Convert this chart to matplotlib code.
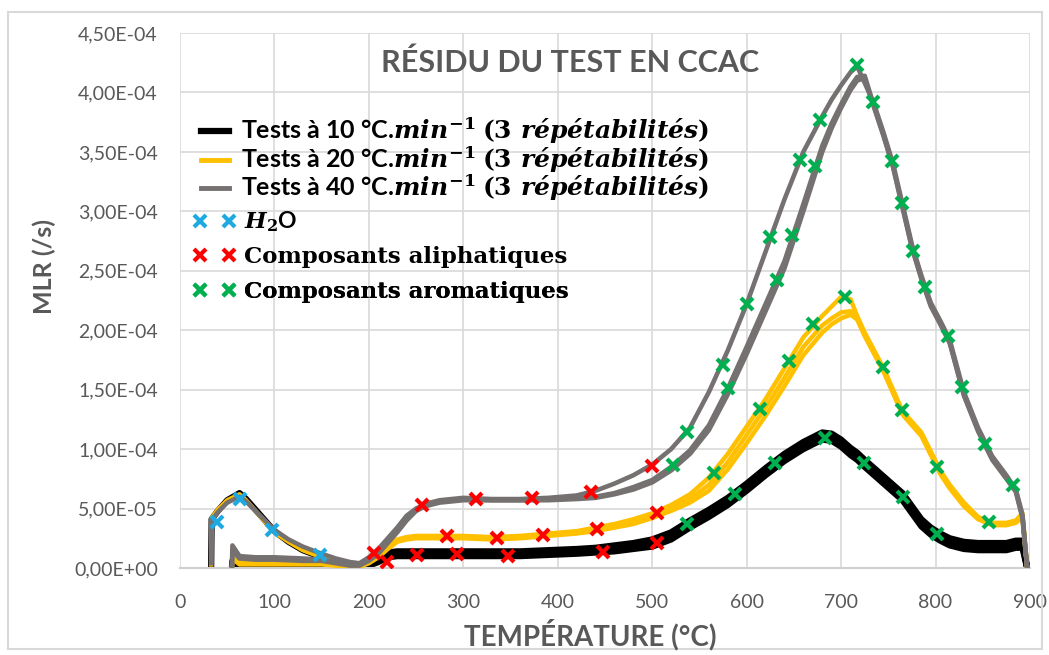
import matplotlib.pyplot as plt
from matplotlib.lines import Line2D
from matplotlib.patches import Rectangle
from matplotlib.ticker import FuncFormatter, MultipleLocator
import numpy as np

plt.rcParams['font.family'] = ['Lato', 'DejaVu Sans']
plt.rcParams['mathtext.fontset'] = 'custom'
plt.rcParams['mathtext.it'] = 'DejaVu Serif:italic:bold'
plt.rcParams['mathtext.rm'] = 'DejaVu Serif:bold'
plt.rcParams['mathtext.bf'] = 'DejaVu Serif:bold'

# Temperature grids (°C): first run with the water peak, the two other runs start later
temp_bump = [33, 33.5, 40, 50, 63, 70, 80, 90, 100, 115, 130, 150, 165, 180, 190]
temp_flat = [55, 55.5, 63, 80, 100, 130, 150, 165, 180, 190]
temp_main = [200, 210, 220, 230, 240, 250, 260, 275, 300, 330, 360, 390, 420, 440, 460,
             480, 500, 520, 540, 560, 580, 600, 620, 640, 660, 680, 690, 700, 710, 717,
             725, 735, 745, 755, 765, 775, 785, 795, 805, 815, 830, 845, 860, 875, 885,
             892, 897]

# MLR in 1e-5 /s
gray_bump = [0.4, 4.0, 4.7, 5.5, 6.0, 5.6, 4.8, 4.0, 3.2, 2.4, 1.8, 1.2, 0.8, 0.5, 0.4]
gray_flat2 = [0.0, 1.9, 1.0, 0.9, 0.9, 0.8, 0.7, 0.5, 0.3, 0.3]
gray_flat3 = [0.0, 1.5, 0.8, 0.7, 0.7, 0.6, 0.6, 0.4, 0.2, 0.2]
gray_main1 = [0.9, 1.6, 2.5, 3.4, 4.4, 5.0, 5.4, 5.7, 5.9, 5.8, 5.8, 5.9, 6.1, 6.5, 7.1,
              7.8, 8.7, 10.0, 11.8, 14.8, 18.3, 22.2, 26.6, 31.0, 35.0, 38.0, 39.4, 40.6, 41.7, 42.2,
              40.8, 39.0, 36.6, 34.0, 30.6, 27.2, 24.6, 22.3, 20.8, 19.2, 14.8, 11.8, 9.4, 7.8, 6.6,
              4.5, 0.0]
gray_main2 = [0.7, 1.4, 2.3, 3.2, 4.2, 4.9, 5.3, 5.6, 5.8, 5.7, 5.7, 5.8, 5.9, 6.0, 6.3,
              6.8, 7.4, 8.5, 9.9, 12.0, 15.1, 18.6, 22.2, 25.8, 30.6, 35.5, 37.4, 39.0, 40.5, 41.3,
              41.4, 38.8, 36.4, 33.8, 30.4, 27.0, 24.4, 22.1, 20.6, 19.0, 14.6, 11.6, 9.2, 7.6, 6.5,
              4.3, 0.0]
gray_main3 = [0.6, 1.2, 2.1, 3.0, 4.0, 4.8, 5.2, 5.5, 5.7, 5.7, 5.7, 5.7, 5.8, 5.9, 6.2,
              6.6, 7.2, 8.2, 9.6, 11.6, 14.6, 18.0, 21.6, 25.2, 30.0, 35.0, 37.0, 38.7, 40.2, 41.0,
              41.2, 38.7, 36.3, 33.7, 30.3, 26.9, 24.3, 22.0, 20.5, 18.9, 14.5, 11.5, 9.1, 7.5, 6.4,
              4.2, 0.0]

yellow_bump = [0.3, 4.2, 4.9, 5.7, 6.2, 5.7, 4.8, 3.9, 3.0, 2.2, 1.5, 0.9, 0.5, 0.3, 0.2]
yellow_flat2 = [0.0, 1.2, 0.5, 0.4, 0.4, 0.4, 0.4, 0.3, 0.2, 0.2]
yellow_flat3 = [0.0, 0.8, 0.3, 0.3, 0.3, 0.3, 0.3, 0.2, 0.1, 0.1]
yellow_main1 = [0.6, 1.1, 1.8, 2.4, 2.6, 2.7, 2.7, 2.7, 2.7, 2.6, 2.7, 2.9, 3.1, 3.4, 3.7,
                4.1, 4.6, 5.3, 6.2, 7.6, 9.6, 11.9, 14.2, 16.8, 19.4, 21.2, 22.0, 22.8, 22.6, 21.2,
                19.8, 18.3, 16.8, 15.0, 13.2, 12.3, 11.4, 9.8, 8.2, 7.0, 5.5, 4.3, 3.8, 3.8, 4.0,
                4.6, 0.0]
yellow_main2 = [0.5, 1.0, 1.7, 2.3, 2.5, 2.6, 2.6, 2.6, 2.6, 2.5, 2.6, 2.8, 3.0, 3.2, 3.5,
                3.9, 4.4, 5.0, 5.8, 7.0, 8.9, 11.2, 13.5, 16.0, 18.6, 20.4, 21.0, 21.5, 21.6, 21.0,
                19.6, 18.1, 16.6, 14.8, 13.0, 12.1, 11.2, 9.6, 8.0, 6.8, 5.3, 4.2, 3.7, 3.7, 3.9,
                4.4, 0.0]
yellow_main3 = [0.4, 0.9, 1.6, 2.2, 2.4, 2.5, 2.5, 2.5, 2.5, 2.4, 2.5, 2.7, 2.9, 3.1, 3.4,
                3.7, 4.2, 4.8, 5.5, 6.5, 8.3, 10.5, 12.8, 15.3, 17.9, 19.8, 20.5, 21.0, 21.3, 20.9,
                19.5, 18.0, 16.5, 14.7, 12.9, 12.0, 11.1, 9.5, 7.9, 6.7, 5.2, 4.1, 3.6, 3.6, 3.8,
                4.3, 0.0]

black_bump = [0.3, 4.1, 4.8, 5.7, 6.3, 5.8, 4.9, 4.0, 3.1, 2.2, 1.5, 0.9, 0.5, 0.2, 0.1]
black_flat2 = [0.0, 0.6, 0.2, 0.2, 0.2, 0.2, 0.2, 0.1, 0.1, 0.1]
black_flat3 = [0.0, 0.4, 0.1, 0.1, 0.1, 0.1, 0.1, 0.1, 0.0, 0.0]
black_main1 = [0.3, 0.7, 1.1, 1.2, 1.2, 1.2, 1.2, 1.2, 1.2, 1.2, 1.2, 1.3, 1.4, 1.5, 1.6,
               1.8, 2.1, 2.7, 3.7, 4.6, 5.6, 6.8, 8.1, 9.3, 10.3, 11.1, 11.0, 10.5, 9.8, 9.4,
               8.8, 8.1, 7.4, 6.7, 6.0, 4.9, 3.8, 3.1, 2.6, 2.2, 1.9, 1.8, 1.8, 1.8, 2.0,
               2.0, 0.0]
black_main2 = [0.4, 0.9, 1.3, 1.4, 1.4, 1.4, 1.4, 1.4, 1.4, 1.4, 1.4, 1.5, 1.6, 1.7, 1.9,
               2.1, 2.4, 3.0, 4.0, 4.9, 5.9, 7.1, 8.4, 9.6, 10.6, 11.4, 11.3, 10.8, 10.1, 9.7,
               9.1, 8.4, 7.7, 7.0, 6.3, 5.2, 4.1, 3.4, 2.9, 2.5, 2.2, 2.1, 2.1, 2.1, 2.3,
               2.3, 0.0]
black_main3 = [0.2, 0.5, 0.9, 1.0, 1.0, 1.0, 1.0, 1.0, 1.0, 1.0, 1.0, 1.1, 1.2, 1.3, 1.4,
               1.6, 1.8, 2.4, 3.4, 4.3, 5.3, 6.5, 7.8, 9.0, 10.0, 10.8, 10.7, 10.2, 9.5, 9.1,
               8.5, 7.8, 7.1, 6.4, 5.7, 4.6, 3.5, 2.8, 2.3, 1.9, 1.6, 1.5, 1.5, 1.5, 1.7,
               1.7, 0.0]

# Species markers (temperature °C, MLR 1e-5 /s)
h2o_t = [39, 64, 97, 148]
h2o_v = [3.9, 5.8, 3.2, 1.1]
aliph_t = [205, 219, 251, 256, 283, 293, 313, 336, 347, 373, 384, 435, 441, 448, 500, 505, 505]
aliph_v = [1.3, 0.5, 1.1, 5.3, 2.7, 1.2, 5.8, 2.5, 1.0, 5.9, 2.8, 6.4, 3.3, 1.35, 8.6, 4.6, 2.1]
arom_t = [522, 537, 575, 580, 600, 625, 632, 648, 656, 672, 678, 717, 734, 754, 764, 776, 789,
          813, 828, 852, 882,
          565, 614, 645, 670, 704, 744, 764, 802, 857,
          537, 588, 630, 683, 724, 766, 801]
arom_v = [8.7, 11.4, 17.1, 15.1, 22.2, 27.8, 24.2, 28.0, 34.3, 33.8, 37.7, 42.3, 39.2, 34.2, 30.7,
          26.7, 23.6, 19.5, 15.2, 10.4, 7.0,
          8.0, 13.4, 17.4, 20.5, 22.8, 16.9, 13.3, 8.5, 3.9,
          3.7, 6.2, 8.8, 10.9, 8.8, 6.0, 2.9]

unit = 1e-5
c_black, c_yellow, c_gray = '#000000', '#FFC000', '#767171'
c_h2o, c_aliph, c_arom = '#1FA9E1', '#FF0000', '#00B050'
c_text = '#595959'

fig = plt.figure(figsize=(10.49, 6.55), dpi=100)
ax = fig.add_axes([180 / 1049, 87 / 655, 850 / 1049, 535 / 655])

# chart area frame
fig.patches.append(Rectangle((8 / 1049, 6 / 655), 1034 / 1049, 637 / 655,
                             transform=fig.transFigure, fill=False,
                             edgecolor='#d9d9d9', lw=1.5))


def draw_rate(bump, flat2, flat3, mains, color, lw, z):
    runs = [(temp_bump + temp_main, bump + mains[0]),
            (temp_flat + temp_main, flat2 + mains[1]),
            (temp_flat + temp_main, flat3 + mains[2])]
    for t, v in runs:
        ax.plot(t, np.array(v) * unit, color=color, lw=lw, zorder=z,
                solid_joinstyle='round')


draw_rate(black_bump, black_flat2, black_flat3,
          [black_main1, black_main2, black_main3], c_black, 4.5, 2)
draw_rate(yellow_bump, yellow_flat2, yellow_flat3,
          [yellow_main1, yellow_main2, yellow_main3], c_yellow, 3.2, 3)
draw_rate(gray_bump, gray_flat2, gray_flat3,
          [gray_main1, gray_main2, gray_main3], c_gray, 3.3, 4)

mk = dict(linestyle='none', marker='x', markersize=8.5, markeredgewidth=3, zorder=6)
ax.plot(h2o_t, np.array(h2o_v) * unit, color=c_h2o, **mk)
ax.plot(aliph_t, np.array(aliph_v) * unit, color=c_aliph, **mk)
ax.plot(arom_t, np.array(arom_v) * unit, color=c_arom, **mk)

ax.set_xlim(0, 900)
ax.set_ylim(0, 4.5e-4)
ax.xaxis.set_major_locator(MultipleLocator(100))
ax.yaxis.set_major_locator(MultipleLocator(5e-5))
ax.yaxis.set_major_formatter(FuncFormatter(lambda v, p: f'{v:.2E}'.replace('.', ',')))
ax.grid(True, color='#d9d9d9', lw=1.2)
ax.set_axisbelow(True)
for s in ['top', 'right', 'left']:
    ax.spines[s].set_visible(False)
ax.spines['bottom'].set_color('#d0d0d0')
ax.spines['bottom'].set_linewidth(1.5)
ax.tick_params(length=0, labelsize=14, labelcolor=c_text)
ax.tick_params(axis='x', pad=19)
ax.tick_params(axis='y', pad=16)

ax.text(0.459, 0.944, 'RÉSIDU DU TEST EN CCAC', transform=ax.transAxes,
        ha='center', va='center', fontsize=22, fontweight='bold', color=c_text)
fig.text(590 / 1049, 1 - 635 / 655, 'TEMPÉRATURE (°C)', ha='center', va='center',
         fontsize=20, fontweight='bold', color=c_text)
fig.text(44 / 1049, 1 - 267 / 655, 'MLR (/s)', ha='center', va='center', rotation=90,
         fontsize=18, fontweight='bold', color=c_text)

# legend, one row at a time so each row sits at its own height
rows = [
    (131, Line2D([], [], color=c_black, lw=4.5),
     r'Tests à 10 °C.$min^{-1}$ $(3\ répétabilités)$', 18, None),
    (160, Line2D([], [], color=c_yellow, lw=3.5),
     r'Tests à 20 °C.$min^{-1}$ $(3\ répétabilités)$', 18, None),
    (188, Line2D([], [], color=c_gray, lw=3.5),
     r'Tests à 40 °C.$min^{-1}$ $(3\ répétabilités)$', 18, None),
    (222, Line2D([], [], color=c_h2o, **mk), r'$H_2$O', 16.5, None),
    (257, Line2D([], [], color=c_aliph, **mk), 'Composants aliphatiques', 16.5, 'DejaVu Serif'),
    (292, Line2D([], [], color=c_arom, **mk), 'Composants aromatiques', 16.5, 'DejaVu Serif'),
]
for y, handle, label, size, family in rows:
    is_line = handle.get_marker() in (None, 'None', '')
    leg = ax.legend([handle], [label], loc='center left',
                    bbox_to_anchor=(193 / 1049, 1 - y / 655),
                    bbox_transform=fig.transFigure, frameon=False, numpoints=2,
                    handlelength=43 / (size * 100 / 72),
                    handletextpad=0.2 if is_line else 0.35,
                    borderpad=0, borderaxespad=0,
                    prop={'weight': 'bold', 'size': size})
    if family:
        leg.get_texts()[0].set_family(family)
    ax.add_artist(leg)

fig.savefig('out.png', dpi=100)
